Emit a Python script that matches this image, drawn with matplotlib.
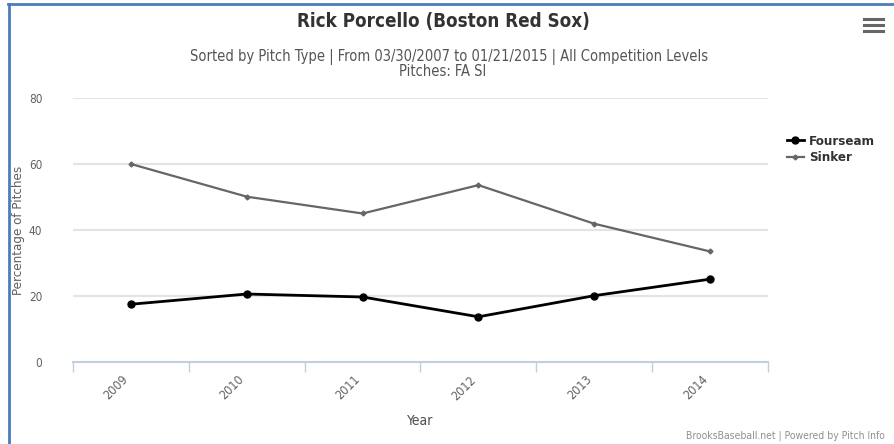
import matplotlib
matplotlib.use("Agg")
import matplotlib.pyplot as plt
from matplotlib.lines import Line2D

plt.rcParams['font.family'] = ['DejaVu Sans']
plt.rcParams['font.stretch'] = 'condensed'

years = ["2009", "2010", "2011", "2012", "2013", "2014"]
fourseam = [17.5, 20.6, 19.7, 13.7, 20.1, 25.1]
sinker = [60.0, 50.1, 45.0, 53.6, 41.9, 33.5]
yticks = [0, 20, 40, 60, 80]

fig = plt.figure(figsize=(8.95, 4.44), dpi=100)
ax = fig.add_axes([73 / 895, 1 - 362 / 444, (768 - 73) / 895, (362 - 98) / 444])

x = list(range(len(years)))
ax.plot(x, fourseam, color="black", lw=2, marker="o", ms=5, label="Fourseam", zorder=3)
ax.plot(x, sinker, color="#666666", lw=1.6, marker="D", ms=2.5, label="Sinker", zorder=3)

ax.set_xlim(-0.5, len(years) - 0.5)
ax.set_ylim(0, 80)
ax.set_yticks(yticks)
ax.set_yticklabels([str(v) for v in yticks], color="#606060", fontsize=8.5)
ax.tick_params(axis="y", length=0, pad=22)
for v in yticks[1:]:
    ax.axhline(v, color="#e4e4e4", lw=1.5, zorder=1)

ax.set_xticks([i - 0.5 for i in range(len(years) + 1)])
ax.set_xticklabels([])
ax.tick_params(axis="x", length=7, color="#c0d0e0", width=1)
ax.set_xticks(x, minor=True)
ax.set_xticklabels(years, minor=True, rotation=45, color="#606060", fontsize=9,
                   ha="right", va="top")
ax.tick_params(axis="x", which="minor", length=0, pad=8)

for s in ["top", "right", "left"]:
    ax.spines[s].set_visible(False)
ax.spines["bottom"].set_color("#c0d0e0")
ax.spines["bottom"].set_linewidth(1.5)

ax.set_ylabel("Percentage of Pitches", color="#606060", fontsize=9.5)
ax.yaxis.set_label_coords((25 - 73) / 695, 0.5)
ax.set_xlabel("Year", color="#4d4d4d", fontsize=10, labelpad=8)

fig.text(443 / 895, 1 - 22 / 444, "Rick Porcello (Boston Red Sox)", ha="center", va="center",
         fontsize=13.5, fontweight="bold", color="#333333")
fig.text(449 / 895, 1 - 57 / 444,
         "Sorted by Pitch Type | From 03/30/2007 to 01/21/2015 | All Competition Levels",
         ha="center", va="center", fontsize=10.5, color="#555555")
fig.text(443 / 895, 1 - 71 / 444, "Pitches: FA SI", ha="center", va="center",
         fontsize=10.5, color="#555555")
fig.text(885 / 895, 1 - 436 / 444, "BrooksBaseball.net | Powered by Pitch Info",
         ha="right", va="center", fontsize=7.5, color="#909090")

# legend
leg = ax.legend(loc="upper left", bbox_to_anchor=(1.01, 0.905), frameon=False,
                handlelength=1.3, handletextpad=0.4, labelspacing=0.25,
                prop={"weight": "bold", "size": 9.5})
for t in leg.get_texts():
    t.set_color("#333333")

# hamburger icon
for dy in [19.5, 25.5, 31.5]:
    fig.add_artist(Line2D([864 / 895, 883 / 895], [1 - dy / 444, 1 - dy / 444],
                          color="#666666", lw=2.2))

# blue frame left and top
fig.add_artist(Line2D([8.5 / 895, 8.5 / 895], [0, 1 - 4.5 / 444], color="#4a7ebb", lw=2))
fig.add_artist(Line2D([8 / 895, 1], [1 - 4.5 / 444, 1 - 4.5 / 444], color="#4a7ebb", lw=2))

fig.savefig("out.png", dpi=100)
